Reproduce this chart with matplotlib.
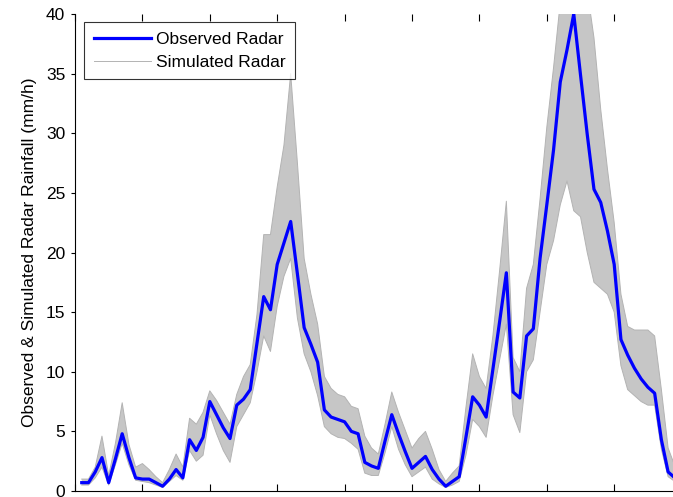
import matplotlib.pyplot as plt

plt.rcParams['font.family'] = ['Liberation Sans', 'DejaVu Sans']

# time steps (one radar scan each)
steps = list(range(1, 90))

# observed radar rainfall, mm/h
observed = [0.7, 0.7, 1.6, 2.8, 0.7, 2.7, 4.8, 2.8, 1.1, 1.0,
            1.0, 0.7, 0.4, 1.0, 1.8, 1.1, 4.3, 3.4, 4.5, 7.5,
            6.4, 5.3, 4.4, 7.2, 7.7, 8.5, 12.4, 16.3, 15.2, 19.0,
            20.8, 22.6, 18.2, 13.7, 12.3, 10.8, 6.8, 6.2, 6.0, 5.8,
            5.0, 4.8, 2.4, 2.1, 1.9, 4.2, 6.4, 4.8, 3.3, 1.9,
            2.4, 2.9, 1.8, 1.0, 0.4, 0.8, 1.2, 4.5, 7.9, 7.2,
            6.2, 10.2, 14.2, 18.3, 8.3, 7.8, 13.0, 13.6, 19.5, 24.0,
            28.6, 34.3, 37.0, 40.0, 34.9, 29.9, 25.3, 24.2, 21.8, 19.0,
            12.7, 11.4, 10.3, 9.4, 8.7, 8.2, 4.3, 1.6, 1.1]

# highest and lowest simulated member at each step
sim_upper = [1.0, 1.0, 2.0, 4.6, 1.3, 4.0, 7.4, 3.9, 2.0, 2.3,
             1.8, 1.2, 0.7, 1.8, 3.1, 2.0, 6.1, 5.6, 6.6, 8.4,
             7.6, 6.6, 5.6, 8.1, 9.6, 10.6, 14.8, 21.5, 21.5, 25.5,
             29.0, 35.0, 27.5, 19.5, 16.5, 14.0, 9.6, 8.6, 8.1, 7.9,
             7.1, 6.9, 4.6, 3.6, 3.1, 5.6, 8.3, 6.6, 5.1, 3.6,
             4.4, 5.0, 3.5, 1.8, 0.8, 1.5, 2.1, 7.0, 11.5, 9.6,
             8.6, 13.0, 18.5, 24.3, 11.2, 10.0, 17.0, 19.0, 24.5, 30.5,
             35.5, 41.0, 43.0, 44.0, 44.0, 42.0, 38.0, 32.0, 27.0, 22.5,
             16.5, 13.8, 13.5, 13.5, 13.5, 13.0, 8.5, 3.6, 2.1]

sim_lower = [0.5, 0.5, 1.1, 2.0, 0.5, 2.2, 4.0, 2.2, 0.9, 0.8,
             0.7, 0.5, 0.3, 0.8, 1.3, 0.9, 3.4, 2.5, 3.0, 6.4,
             4.8, 3.4, 2.4, 5.4, 6.4, 7.4, 10.0, 13.0, 11.7, 15.5,
             18.0, 19.5, 14.5, 11.5, 10.0, 8.0, 5.4, 4.8, 4.5, 4.4,
             4.0, 3.5, 1.5, 1.3, 1.3, 3.2, 5.4, 3.5, 2.2, 1.2,
             1.6, 2.0, 1.0, 0.6, 0.3, 0.5, 0.8, 3.0, 6.0, 5.4,
             4.5, 8.0, 11.0, 14.0, 6.4, 4.9, 10.0, 11.0, 15.0, 19.0,
             21.0, 24.0, 26.0, 23.5, 23.0, 20.0, 17.5, 17.0, 16.5, 15.0,
             10.5, 8.5, 8.0, 7.5, 7.2, 7.2, 3.5, 1.2, 0.8]

fig = plt.figure(figsize=(6.73, 4.97), dpi=100)
ax = fig.add_axes([75 / 673, 1 - 491 / 497, 606.6 / 673, 477 / 497])

# ensemble spread
ax.fill_between(steps, sim_lower, sim_upper, color='#c6c6c6', linewidth=0)
ax.plot(steps, sim_upper, color='#b3b3b3', linewidth=0.7)
ax.plot(steps, sim_lower, color='#b3b3b3', linewidth=0.7)

obs_line, = ax.plot(steps, observed, color='#0000ff', linewidth=2.3)
sim_line, = ax.plot([], [], color='#b3b3b3', linewidth=0.7)

ax.set_xlim(0, 90)
ax.set_ylim(0, 40)
ax.set_xticks(range(0, 91, 10))
ax.set_yticks(range(0, 41, 5))
ax.spines['top'].set_visible(False)
ax.tick_params(axis='x', direction='in', length=5, top=True, labelbottom=False)
ax.tick_params(axis='y', direction='out', length=3, labelsize=12.5, pad=4)

ax.set_ylabel('Observed & Simulated Radar Rainfall (mm/h)', fontsize=12.5, labelpad=6)

leg = ax.legend([obs_line, sim_line], ['Observed Radar', 'Simulated Radar'],
                loc='upper left', bbox_to_anchor=(0.015, 0.983), borderaxespad=0,
                fontsize=12.5, handlelength=3.3, handletextpad=0.3,
                labelspacing=0.45, borderpad=0.55, fancybox=False)
leg.get_frame().set_edgecolor('black')
leg.get_frame().set_linewidth(0.8)

fig.savefig('out.png', dpi=100)
